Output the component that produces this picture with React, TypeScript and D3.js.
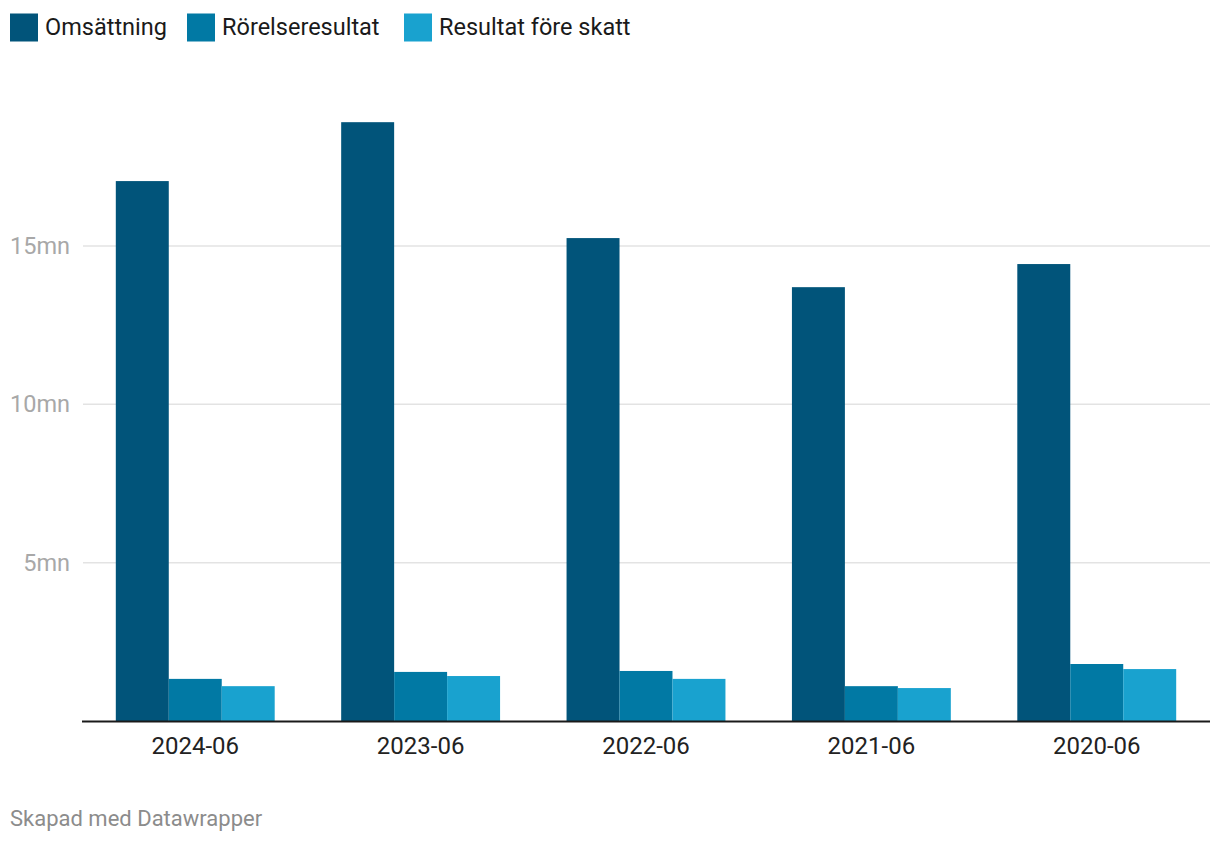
import React from "react";
import * as d3 from "d3";

const categories = ["2024-06", "2023-06", "2022-06", "2021-06", "2020-06"];
const seriesNames = ["Omsättning", "Rörelseresultat", "Resultat före skatt"];
const omsattning = [17.05, 18.91, 15.25, 13.7, 14.43];
const rorelseresultat = [1.33, 1.55, 1.58, 1.1, 1.8];
const resultatForeSkatt = [1.1, 1.42, 1.33, 1.04, 1.64];
const yTicks = [5, 10, 15];
const colors = ["#01547a", "#0179a4", "#19a2cf"];

const W = 1220;
const H = 844;

export default function App() {
  const series = [omsattning, rorelseresultat, resultatForeSkatt];
  const x0 = d3.scaleBand<string>().domain(categories).range([82, 1210]).paddingInner(0.295).paddingOuter(0.15);
  const x1 = d3.scaleBand<string>().domain(seriesNames).range([0, x0.bandwidth()]);
  const y = d3.scaleLinear().domain([0, 15]).range([721, 246]);
  const font = "Roboto, 'Noto Sans', sans-serif";

  const legendX = [10, 187, 404];

  return (
    <svg width={W} height={H} style={{ position: "absolute", left: 0, top: 0, background: "#fff" }} fontFamily={font}>
      {seriesNames.map((s, i) => (
        <g key={s}>
          <rect x={legendX[i]} y={13.5} width={28} height={28} fill={colors[i]} />
          <text x={legendX[i] + 35} y={35} fontSize={23.5} fill="#1a1a1a">{s}</text>
        </g>
      ))}
      {yTicks.map((t) => (
        <g key={t}>
          <line x1={83} x2={1210} y1={y(t)} y2={y(t)} stroke="#e3e3e3" strokeWidth={1.5} />
          <text x={70} y={y(t) + 8} textAnchor="end" fontSize={23.5} fill="#a8a8a8">{t}mn</text>
        </g>
      ))}
      {categories.map((c, ci) => (
        <g key={c} transform={`translate(${x0(c)},0)`}>
          {seriesNames.map((s, si) => (
            <rect
              key={s}
              x={x1(s)}
              y={y(series[si][ci])}
              width={x1.bandwidth()}
              height={y(0) - y(series[si][ci])}
              fill={colors[si]}
            />
          ))}
          <text x={x0.bandwidth() / 2} y={754} textAnchor="middle" fontSize={24} fill="#222">{c}</text>
        </g>
      ))}
      <line x1={82} x2={1210} y1={y(0) + 0.5} y2={y(0) + 0.5} stroke="#1a1a1a" strokeWidth={2} />
      <text x={10} y={826} fontSize={22} fill="#8c8c8c">Skapad med Datawrapper</text>
    </svg>
  );
}
